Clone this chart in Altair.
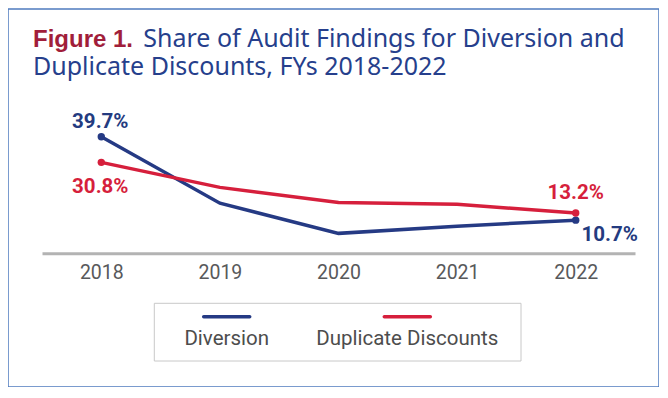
import altair as alt
import pandas as pd

years = ["2018", "2019", "2020", "2021", "2022"]
diversion = [39.7, 16.6, 6.1, 8.6, 10.7]
duplicate = [30.8, 22.1, 16.8, 16.2, 13.2]
series_names = ["Diversion", "Duplicate Discounts"]
colors = ["#253a84", "#d61f3c"]
title_lead = "Figure 1."
title_line1 = "Share of Audit Findings for Diversion and"
title_line2 = "Duplicate Discounts, FYs 2018-2022"

rows = []
for i, y in enumerate(years):
    rows.append({"year": y, "series": series_names[0], "value": diversion[i]})
    rows.append({"year": y, "series": series_names[1], "value": duplicate[i]})
df = pd.DataFrame(rows)
df["label"] = df["value"].map(lambda v: f"{v:.1f}%")
one = pd.DataFrame({"k": [0]})

W, H = 651, 378
x_enc = alt.X(
    "year:O",
    scale=alt.Scale(type="point", domain=years, range=[34, 627], padding=0.5),
    axis=alt.Axis(
        title=None, offset=-133.7, domainColor="#b3b3b3", domainWidth=3,
        ticks=False, labelFont="Roboto", labelFontSize=19.5, labelColor="#58595b",
        labelPadding=10, labelAngle=0, grid=False,
    ),
)
y_enc = alt.Y(
    "value:Q",
    scale=alt.Scale(domain=[0, 40], range=[241.9, 126.9], zero=False, nice=False),
    axis=None,
)
color_enc = alt.Color(
    "series:N", scale=alt.Scale(domain=series_names, range=colors), legend=None
)

base = alt.Chart(df)
lines = base.mark_line(strokeWidth=3.5).encode(x=x_enc, y=y_enc, color=color_enc)
ends = base.transform_filter(
    alt.FieldOneOfPredicate(field="year", oneOf=[years[0], years[-1]])
).mark_circle(size=55, opacity=1).encode(x=x_enc, y=y_enc, color=color_enc)

def lab(series, year, dx, dy, color):
    return base.transform_filter(
        (alt.datum.series == series) & (alt.datum.year == year)
    ).mark_text(
        font="Roboto", fontSize=20.5, fontWeight="bold", fill=color,
        dx=dx, dy=dy, baseline="middle", align="center",
    ).encode(x=x_enc, y=y_enc, text="label:N")

labels = [
    lab(series_names[0], years[0], -1, -15, "#243b80"),
    lab(series_names[1], years[0], -1, 25, "#d61f3c"),
    lab(series_names[1], years[-1], 0, -20, "#d61f3c"),
    lab(series_names[0], years[-1], 34, 15, "#243b80"),
]

tfont = "Noto Sans"
t1 = alt.Chart(one).mark_text(
    text=title_lead, font="Liberation Sans", fontSize=24, fontWeight="bold", fill="#a11e3a",
    align="left", baseline="alphabetic",
).encode(x=alt.value(25), y=alt.value(38.3))
t2 = alt.Chart(one).mark_text(
    text=title_line1, font=tfont, fontSize=25, fill="#263f8c",
    align="left", baseline="alphabetic",
).encode(x=alt.value(135.3), y=alt.value(38.3))
t3 = alt.Chart(one).mark_text(
    text=title_line2, font=tfont, fontSize=25, fill="#263f8c",
    align="left", baseline="alphabetic",
).encode(x=alt.value(25), y=alt.value(66))

leg_box = alt.Chart(one).mark_rect(
    fill="white", stroke="#c8c8c8", strokeWidth=1
).encode(x=alt.value(146.3), x2=alt.value(513), y=alt.value(294.3), y2=alt.value(352))
leg_items = []
for name, col, cx in zip(series_names, colors, [218.7, 399.3]):
    leg_items.append(alt.Chart(one).mark_rule(
        color=col, strokeWidth=3.5, strokeCap="round"
    ).encode(x=alt.value(cx - 23), x2=alt.value(cx + 23), y=alt.value(307.7)))
    leg_items.append(alt.Chart(one).mark_text(
        text=name, font="Roboto", fontSize=20.5, fill="#4d4d4d",
        align="center", baseline="alphabetic",
    ).encode(x=alt.value(cx), y=alt.value(336)))

chart = alt.layer(
    lines, ends, *labels, t1, t2, t3, leg_box, *leg_items
).properties(
    width=W, height=H, padding={"left": 0, "top": 1, "right": 0, "bottom": 0},
    autosize=alt.AutoSizeParams(type="none"),
).configure_view(stroke="#4f7bbf", strokeWidth=1.5)

chart.save("out.html", embed_options={"renderer": "svg", "actions": False})
